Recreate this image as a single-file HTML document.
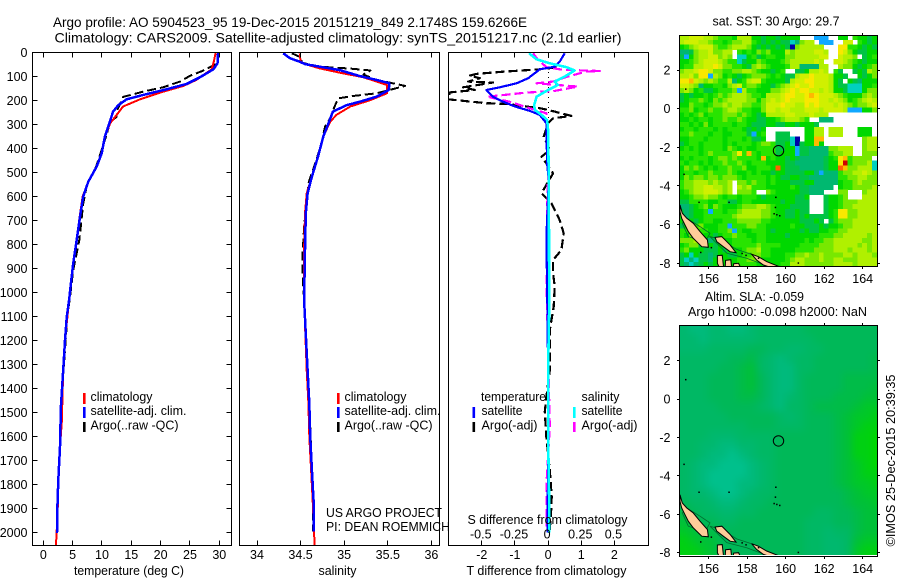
<!DOCTYPE html>
<html lang="en">
<head>
<meta charset="utf-8">
<title>Argo profile 5904523_95</title>
<style>
html,body{margin:0;padding:0;background:#fff;}
svg{display:block;}
text{font-family:"Liberation Sans",sans-serif;font-size:12.5px;fill:#000;}
.title{font-size:14px;}
.frame{fill:none;stroke:#000;stroke-width:1;shape-rendering:crispEdges;}
.mark{fill:none;shape-rendering:crispEdges;stroke-linejoin:round;}
</style>
</head>
<body>
<svg id="chart" xmlns="http://www.w3.org/2000/svg" width="900" height="580" viewBox="0 0 900 580">
<defs>
<clipPath id="clip-temp"><rect x="32.5" y="52.5" width="199" height="493"/></clipPath>
<clipPath id="clip-sal"><rect x="239.5" y="52.5" width="200" height="493"/></clipPath>
<clipPath id="clip-diff"><rect x="448.5" y="52.5" width="200" height="493"/></clipPath>
<clipPath id="clip-map1"><rect x="679.5" y="35.5" width="198" height="231"/></clipPath>
<clipPath id="clip-map2"><rect x="679.5" y="325.5" width="198" height="231"/></clipPath>
</defs>
<rect x="0" y="0" width="900" height="580" fill="#fff"/>

<text class="title" x="53" y="27" textLength="474" lengthAdjust="spacingAndGlyphs">Argo profile: AO 5904523_95 19-Dec-2015 20151219_849 2.1748S 159.6266E</text>
<text class="title" x="54.5" y="42.5" textLength="567" lengthAdjust="spacingAndGlyphs">Climatology: CARS2009. Satellite-adjusted climatology: synTS_20151217.nc (2.1d earlier)</text>

<g id="temp-marks" clip-path="url(#clip-temp)"></g>
<g id="sal-marks" clip-path="url(#clip-sal)"></g>
<g id="diff-marks" clip-path="url(#clip-diff)"></g>

<rect class="frame" x="32.5" y="52.5" width="199" height="493"/>
<rect class="frame" x="239.5" y="52.5" width="200" height="493"/>
<rect class="frame" x="448.5" y="52.5" width="200" height="493"/>
<g id="axes"></g>

<text x="74" y="575" textLength="110" lengthAdjust="spacingAndGlyphs">temperature (deg C)</text>
<text x="318.5" y="575" textLength="38" lengthAdjust="spacingAndGlyphs">salinity</text>
<text x="466.5" y="575" textLength="160" lengthAdjust="spacingAndGlyphs">T difference from climatology</text>
<text x="467.5" y="524" textLength="160" lengthAdjust="spacingAndGlyphs">S difference from climatology</text>

<g>
<rect x="83" y="393" width="2.6" height="11" fill="#f00"/>
<rect x="83" y="407" width="2.6" height="11" fill="#00f"/>
<rect x="83" y="422" width="2.6" height="10" fill="#000"/>
<text x="90.5" y="401" textLength="62" lengthAdjust="spacingAndGlyphs">climatology</text>
<text x="90.5" y="415" textLength="96" lengthAdjust="spacingAndGlyphs">satellite-adj. clim.</text>
<text x="90.5" y="429.5" textLength="88" lengthAdjust="spacingAndGlyphs">Argo(..raw -QC)</text>
</g>
<g>
<rect x="337" y="393" width="2.6" height="11" fill="#f00"/>
<rect x="337" y="407" width="2.6" height="11" fill="#00f"/>
<rect x="337" y="422" width="2.6" height="10" fill="#000"/>
<text x="344.5" y="401" textLength="62" lengthAdjust="spacingAndGlyphs">climatology</text>
<text x="344.5" y="415" textLength="96" lengthAdjust="spacingAndGlyphs">satellite-adj. clim.</text>
<text x="344.5" y="429.5" textLength="88" lengthAdjust="spacingAndGlyphs">Argo(..raw -QC)</text>
</g>
<g>
<text x="481" y="401" textLength="65" lengthAdjust="spacingAndGlyphs">temperature</text>
<rect x="472.5" y="407" width="2.6" height="11" fill="#00f"/>
<rect x="472.5" y="422" width="2.6" height="10" fill="#000"/>
<text x="481.5" y="415" textLength="41" lengthAdjust="spacingAndGlyphs">satellite</text>
<text x="481.5" y="429.5" textLength="56" lengthAdjust="spacingAndGlyphs">Argo(-adj)</text>
<text x="581.5" y="401" textLength="38" lengthAdjust="spacingAndGlyphs">salinity</text>
<rect x="573" y="407" width="2.6" height="11" fill="#0ff"/>
<rect x="573" y="422" width="2.6" height="10" fill="#f0f"/>
<text x="581.5" y="415" textLength="41" lengthAdjust="spacingAndGlyphs">satellite</text>
<text x="581.5" y="429.5" textLength="56" lengthAdjust="spacingAndGlyphs">Argo(-adj)</text>
</g>
<text x="326" y="517" textLength="116" lengthAdjust="spacingAndGlyphs">US ARGO PROJECT</text>
<text x="326" y="531" textLength="124" lengthAdjust="spacingAndGlyphs">PI: DEAN ROEMMICH</text>

<text x="712.5" y="25.5" textLength="127" lengthAdjust="spacingAndGlyphs">sat. SST: 30 Argo: 29.7</text>
<g id="map1-cells" clip-path="url(#clip-map1)"></g>
<g id="map1-land" clip-path="url(#clip-map1)"></g>
<rect class="frame" x="679.5" y="35.5" width="198" height="231"/>

<text x="705" y="301" textLength="99" lengthAdjust="spacingAndGlyphs">Altim. SLA: -0.059</text>
<text x="688" y="316" textLength="179" lengthAdjust="spacingAndGlyphs">Argo h1000: -0.098 h2000: NaN</text>
<g clip-path="url(#clip-map2)"><g id="map2-cells" style="filter:blur(4px)"></g></g>
<g id="map2-land" clip-path="url(#clip-map2)"></g>
<rect x="680" y="555" width="197" height="1.5" fill="#fff"/>
<rect class="frame" x="679.5" y="325.5" width="198" height="231"/>
<g id="map-axes"></g>
<text transform="translate(895 546.5) rotate(-90)" x="0" y="0" textLength="172" lengthAdjust="spacingAndGlyphs">©IMOS 25-Dec-2015 20:39:35</text>
</svg>

<script>
const depthTicks = [0,100,200,300,400,500,600,700,800,900,1000,1100,1200,1300,1400,1500,1600,1700,1800,1900,2000];
const tempTicks = [0,5,10,15,20,25,30];
const salTicks = [34,34.5,35,35.5,36];
const diffTTicks = [-2,-1,0,1,2];
const diffSTicks = [-0.5,-0.25,0,0.25,0.5];
const lonTicks = [156,158,160,162,164];
const latTicks = [2,0,-2,-4,-6,-8];

const tempSatDepth = [0,46,71,104,132,154,178,196,220,247,296,351,421,476,539,601,685,782,880,963,1033,1100,1200,1324,1477,1643,1782,1907,2003];
const tempSatValue = [29.8,29.7,29.0,26.7,24.4,21.0,17.0,14.2,12.8,11.9,11.25,10.5,9.95,9.1,7.67,6.8,6.25,5.7,5.1,4.7,4.4,4.0,3.7,3.4,3.0,2.85,2.56,2.39,2.33];
const tempClimDepth = [0,46,71,115,140,168,196,226,261,296,351,421,476,539,601,685,782,880,963,1033,1200,1324,1540,1643,1782,1907,2052];
const tempClimValue = [29.4,29.0,28.7,26.1,23.9,19.9,16.5,13.6,12.5,11.4,10.5,9.95,9.1,7.7,6.7,6.2,5.65,5.1,4.7,4.4,3.7,3.4,3.15,2.85,2.55,2.45,2.17];
const tempArgoDepth = [0,46,76,98,122,146,164,186,214,241,269,289,351,428,490,546,630,727,782,838,907,990,1100,1324,1477,1643,1782,1907,2000];
const tempArgoValue = [29.9,29.7,27.3,25,23.3,20.4,17,13.6,13.1,12.6,12.5,11.4,10.7,9.66,8.8,7.5,6.8,6.4,6.14,5.7,5.1,4.7,4.1,3.45,3.0,2.88,2.58,2.42,2.36];

const salSatDepth = [4,25,39,49,60,74,99,115,129,157,185,206,220,247,296,351,435,518,587,671,824,1033,1324,1462,1600,1740,1878,1996];
const salSatValue = [34.30,34.38,34.49,34.55,34.72,34.95,35.18,35.37,35.52,35.51,35.37,35.18,35.03,34.87,34.82,34.76,34.70,34.63,34.58,34.56,34.55,34.54,34.58,34.60,34.61,34.63,34.65,34.65];
const salClimDepth = [4,39,49,67,85,104,136,171,199,226,261,289,351,435,518,587,671,824,1033,1324,1462,1600,1740,1878,2052];
const salClimValue = [34.49,34.50,34.55,34.72,34.95,35.22,35.49,35.49,35.30,35.07,34.91,34.84,34.76,34.70,34.63,34.57,34.55,34.54,34.54,34.57,34.59,34.60,34.62,34.64,34.66];
const salArgoDepth = [4,22,43,60,68,76,93,115,140,171,182,192,226,275,310,379,449,546,727,865,907,1033,1324,1462,1600,1740,1878,1996];
const salArgoValue = [34.40,34.51,34.51,34.72,35.07,35.30,35.22,35.37,35.70,35.37,35.10,34.93,34.89,34.84,34.78,34.74,34.68,34.59,34.54,34.52,34.52,34.54,34.575,34.60,34.615,34.63,34.645,34.645];

const diffTSatDepth = [4,39,60,71,108,129,146,157,185,206,226,244,261,296,463,532,671,768,1060,1324,1600,1878,2000];
const diffTSatValue = [0.50,0.35,0.2,-0.25,-0.60,-0.95,-1.46,-1.86,-1.66,-1.36,-1.0,-0.55,-0.25,-0.05,-0.03,0.02,-0.02,-0.05,-0.02,0,0,-0.01,-0.02];
const diffSSatDepth = [4,29,46,62,76,101,122,136,157,185,219,240,261,282,324,532,1060,1324,1600,1878,2000];
const diffSSatValue = [-0.143,-0.087,0.013,0.139,0.20,0.126,0.05,0.075,0,-0.087,-0.105,-0.10,-0.05,-0.007,0,0.005,0.008,0,0,0.008,0.01];
const diffTArgoDepth = [63,71,81,90,97,108,122,126,146,157,167,196,212,215,234,247,265,275,296,351,407,435,463,504,587,629,699,754,824,865,921,976,1060,1150,1324,1435,1497,1607,1740,1852,1894,1990];
const diffTArgoValue = [0.25,-0.25,-1.36,-2.16,-2.36,-2.06,-2.41,-1.66,-2.56,-2.21,-2.96,-3.02,-1.86,-1.25,-0.2,0.2,0.7,0.15,0,-0.13,0.05,-0.2,-0.05,0.15,-0.2,0.1,0.35,0.47,0.4,0.15,0.15,0.2,0.17,0.06,0.05,-0.05,-0.1,-0.05,0.05,0.11,0.1,0.05];
const diffSArgoDepth = [4,32,62,73,78,80,101,122,129,143,161,168,185,206,233,254,275,324,380,490,685,1018,1560,1796,1976];
const diffSArgoValue = [-0.113,-0.075,-0.012,0.11,0.39,0.29,0.15,0.035,-0.087,0.224,0.05,-0.163,-0.46,-0.29,-0.14,-0.012,-0.012,0,-0.012,0,-0.008,-0.01,0.013,-0.012,-0.012];

/* SST map: one hex level per quarter-degree cell, '.' = no data; spaces only group columns */
const sstLevelColors = ['#0000a8','#10a8ff','#00d0c0','#00b870','#00c444','#00d800','#28e400','#78e800','#b0f000','#d0f000','#f8e800','#ffb800','#ff6000','#d00000'];
const sstRows = [
"8899988766 6588855455 45555...11 1..55.6554 5",
"8999887665 6778865454 54423788.1 11..99.654 5",
"5678999766 7888754545 4540788888 ...aa66545 4",
"3347889778 8.65657675 5587888899 8..a975445 5",
"4157889978 7.22564566 5577888889 9..9887.45 6",
"5567899987 6624557655 5678888898 ..99876545 5",
"5668899a97 7665478765 5568833338 8..8775456 7",
"7889aa9776 6778876554 56..445889 8.64..4548 7",
"8897aa1875 6545677765 6544899a99 98554..545 7",
"aab9878766 8356899655 554899aa99 9854.54355 5",
"9987355665 7896776554 6789a99a99 9854422255 6",
"7875644566 6718665557 789a9aa998 9855422257 7",
"4545565676 7888766588 89aa99aba9 9987655578 7",
"4566765767 8888775789 89a999aaa9 9898756789 8",
"5576656778 7887766799 9a9988a9a9 9989876778 9",
"6675667667 8876655799 8998889998 9999811155 7",
"5656756667 7767654588 8899888988 8......... .",
"5565665667 6676554455 6788876..3 33........ .",
"6656575666 6566544455 445545554. .......... .",
"5665666565 66654545.. ......5588 .888...555 .",
"6676665665 56664156.. 444...5588 .888...555 .",
"5566656665 66656445.. 44420.55bb ........78 8",
"4566566665 6566656776 44520455b5 ........78 8",
"5656566665 7656556666 4455144333 377888..78 8",
"6666567666 67a6b65666 4555144333 367788..77 7",
"5656665677 6766665b56 5545433333 456ab67777 .",
"6566565667 6676566655 5544333333 455ad67778 2",
"5767656566 7667556665 c544433333 455cb77888 2",
"5665667666 7655656554 5544445531 3336778898 7",
"5767767767 7765666656 5445544333 3336677887 7",
"6778887877 8.77676656 5554445533 3335667877 7",
"6778899887 8.87866655 5556544333 33.5667777 8",
"5678899987 8.7776..76 5555544333 ...77...78 8",
"5567787765 6656665455 5555445... 45567...88 8",
"4466665566 4456655555 5455444... 4556777888 8",
"3345675765 5567778876 5554444... 4556778888 8",
"4345561665 6678888776 5544544... 456aa77888 8",
"5345566666 6788888776 5544545444 456aa77888 8",
"5454566556 6677777665 5555544454 .467778888 8",
"4546755566 1666776655 5556554445 4556778888 8",
"6657665566 7165566654 5555545445 5667788888 8",
"6577655456 6766556655 5545555556 6677888887 8",
"7778743445 5666656655 5555556566 7788888877 8",
"5677435455 5666667666 6555566667 7788888787 8",
"6755544454 5556778665 5555666677 7788878887 8",
"4525443455 4456677665 5566778778 7777887888 7",
"4232443545 5566776555 5567887778 7788777888 8",
"4323454555 5566665555 5668887777 7788887888 8"
];

/* SLA map: coarse level grid */
const slaLevelColors = ['#00c08c','#00ba7c','#00b86e','#00b864','#00b858','#00bc48','#00c038','#00c828','#00d012','#00d800'];
const slaRows = [
"211221123333344444444",
"221222223333334444444",
"222333344332233444444",
"333334453212334444445",
"333344563211334444445",
"333444564211344445555",
"333444564211344445556",
"333444554212344455566",
"333344443213345555677",
"333334444432344456778",
"333333344433344456788",
"333222333344444456889",
"332211223344444456889",
"332110123344444456889",
"321100012344444456789",
"321000012344444456788",
"321000112344444456778",
"322100123344444445677",
"433211233444444445667",
"543322334444443344566",
"654433444444433344566",
"765544444444433233566",
"876644444444433223677",
"887644444444433223788"
];

/* Coastlines, lon / lat */
const landALon = [154.51,154.63,154.86,155.20,155.55,155.93,155.98,155.64,155.20,154.94,154.77,154.60,154.51];
const landALat = [-4.98,-5.41,-5.67,-5.93,-6.36,-6.79,-7.17,-7.14,-6.71,-6.36,-6.02,-5.67,-5.33];
const landBLon = [156.33,156.68,157.11,157.42,157.11,156.76,156.42];
const landBLat = [-6.66,-6.62,-7.05,-7.45,-7.40,-7.14,-6.88];
const landCLon = [158.23,158.58,159.01,159.74,159.36,158.84,158.49];
const landCLat = [-7.53,-7.66,-7.91,-8.20,-8.26,-8.09,-7.83];
const landDLon = [156.45,156.70,156.78,156.60,156.45];
const landDLat = [-7.60,-7.58,-8.25,-8.30,-8.00];
const landELon = [156.88,157.15,157.20,156.85];
const landELat = [-7.85,-7.82,-8.30,-8.30];
const landFLon = [157.30,157.55,157.70,157.25];
const landFLat = [-8.02,-8.00,-8.30,-8.30];
const contourALon = [154.63,154.94,155.81,156.07,155.55,154.86];
const contourALat = [-5.93,-6.62,-6.91,-6.45,-6.10,-5.67];
const contourBLon = [156.07,156.94,157.97,158.67,159.01,158.32,157.45,156.68];
const contourBLat = [-6.62,-7.48,-7.74,-8.00,-8.17,-7.57,-7.28,-6.79];
const islandDotLon = [154.77,154.68,155.46,157.02,159.45,159.43,159.36,159.50,159.65,160.62,155.55,156.10,157.70,157.90,158.55];
const islandDotLat = [1.05,-3.36,-4.81,-4.81,-4.55,-5.07,-5.40,-5.45,-5.50,-7.95,-7.40,-7.15,-7.45,-7.55,-7.70];

const argoLon = [159.6266];
const argoLat = [-2.1748];

const NS = 'http://www.w3.org/2000/svg';
function yDepth(d){ return 52.3 + d * 0.24; }
function xTemp(t){ return 43.3 + t * 5.867; }
function xSal(s){ return 257 + (s - 34) * 87.2; }
function xDiffT(t){ return 548.1 + t * 33.15; }
function xDiffS(s){ return 548.1 + s * 132.6; }
function xLon(lon){ return 708.7 + (lon - 156) * 19.25; }
function yLat1(lat){ return 70 + (2 - lat) * 19.33; }
function yLat2(lat){ return 360.7 + (2 - lat) * 19.2; }

function addSeries(parent, xFn, values, depths, color, width, dash, name){
  const p = document.createElementNS(NS, 'polyline');
  p.setAttribute('points', values.map(function(v, i){ return xFn(v).toFixed(1) + ',' + yDepth(depths[i]).toFixed(1); }).join(' '));
  p.setAttribute('class', 'mark');
  p.setAttribute('stroke', color);
  p.setAttribute('stroke-width', width);
  if (dash) p.setAttribute('stroke-dasharray', dash);
  
  
  parent.appendChild(p);
}
function addTick(parent, x1, y1, x2, y2){
  const l = document.createElementNS(NS, 'line');
  l.setAttribute('x1', x1);
  l.setAttribute('y1', y1);
  l.setAttribute('x2', x2);
  l.setAttribute('y2', y2);
  l.setAttribute('stroke', '#000');
  l.setAttribute('stroke-width', 1);
  l.setAttribute('shape-rendering', 'crispEdges');
  
  
  parent.appendChild(l);
}
function addLabel(parent, x, y, str, anchor){
  const t = document.createElementNS(NS, 'text');
  t.setAttribute('x', x);
  t.setAttribute('y', y);
  t.setAttribute('text-anchor', anchor);
  t.textContent = str;
  
  
  parent.appendChild(t);
}
function snap(v){ return Math.round(v - 0.5) + 0.5; }

const axes = document.getElementById('axes');
depthTicks.forEach(function(d){
  const y = snap(yDepth(d));
  addTick(axes, 32.5, y, 37.5, y);
  addTick(axes, 226.5, y, 231.5, y);
  addLabel(axes, 27.5, yDepth(d) + 4.5, String(d), 'end');
});
function xAxis(ticks, xFn){
  ticks.forEach(function(v){
    const x = snap(xFn(v));
    addTick(axes, x, 52.5, x, 57.5);
    addTick(axes, x, 540.5, x, 545.5);
    addLabel(axes, xFn(v), 559, String(v), 'middle');
  });
}
xAxis(tempTicks, xTemp);
xAxis(salTicks, xSal);
xAxis(diffTTicks, xDiffT);
diffSTicks.forEach(function(v){
  addLabel(axes, xDiffS(v) - 1, 538.5, String(v), 'middle');
});

const gTemp = document.getElementById('temp-marks');
addSeries(gTemp, xTemp, tempArgoValue, tempArgoDepth, '#000', 2, '9 4', 'temperature-argo-line');
addSeries(gTemp, xTemp, tempClimValue, tempClimDepth, '#f00', 2, null, 'temperature-climatology-line');
addSeries(gTemp, xTemp, tempSatValue, tempSatDepth, '#00f', 2.5, null, 'temperature-satellite-line');

const gSal = document.getElementById('sal-marks');
addSeries(gSal, xSal, salArgoValue, salArgoDepth, '#000', 2, '9 4', 'salinity-argo-line');
addSeries(gSal, xSal, salClimValue, salClimDepth, '#f00', 2, null, 'salinity-climatology-line');
addSeries(gSal, xSal, salSatValue, salSatDepth, '#00f', 2.5, null, 'salinity-satellite-line');

const gDiff = document.getElementById('diff-marks');
const zero = document.createElementNS(NS, 'line');
zero.setAttribute('x1', snap(xDiffT(0)));
zero.setAttribute('x2', snap(xDiffT(0)));
zero.setAttribute('y1', 52);
zero.setAttribute('y2', 545);
zero.setAttribute('stroke', '#000');
zero.setAttribute('stroke-dasharray', '1 4');
zero.setAttribute('shape-rendering', 'crispEdges');


gDiff.appendChild(zero);
addSeries(gDiff, xDiffT, diffTArgoValue, diffTArgoDepth, '#000', 2.2, '9 4', 't-difference-argo-line');
addSeries(gDiff, xDiffS, diffSArgoValue, diffSArgoDepth, '#f0f', 2.2, '9 4', 's-difference-argo-line');
addSeries(gDiff, xDiffT, diffTSatValue, diffTSatDepth, '#00f', 2.2, null, 't-difference-satellite-line');
addSeries(gDiff, xDiffS, diffSSatValue, diffSSatDepth, '#0ff', 2.6, null, 's-difference-satellite-line');

/* Heatmaps */
const sstCellLon = 0.25;
const sstCellLat = 0.25;
const sstOriginLon = 154.47;
const sstOriginLat = 3.81;
const gMap1 = document.getElementById('map1-cells');
sstRows.forEach(function(row, r){
  row.replace(/ /g, '').split('').forEach(function(ch, c){
    if (ch === '.') return;
    const level = parseInt(ch, 16);
    const lon = sstOriginLon + c * sstCellLon;
    const lat = sstOriginLat - r * sstCellLat;
    const cell = document.createElementNS(NS, 'rect');
    cell.setAttribute('x', xLon(lon).toFixed(2));
    cell.setAttribute('y', yLat1(lat).toFixed(2));
    cell.setAttribute('width', (sstCellLon * 19.25 + 0.3).toFixed(2));
    cell.setAttribute('height', (sstCellLat * 19.33 + 0.3).toFixed(2));
    cell.setAttribute('fill', sstLevelColors[level]);
    cell.setAttribute('shape-rendering', 'crispEdges');
    
    
    gMap1.appendChild(cell);
  });
});
const slaCellLon = 0.5;
const slaCellLat = 0.5;
const slaOriginLon = 154.47;
const slaOriginLat = 3.86;
const gMap2 = document.getElementById('map2-cells');
const slaBase = document.createElementNS(NS, 'rect');
slaBase.setAttribute('x', 670);
slaBase.setAttribute('y', 315);
slaBase.setAttribute('width', 220);
slaBase.setAttribute('height', 250);
slaBase.setAttribute('fill', slaLevelColors[4]);


gMap2.appendChild(slaBase);
slaRows.forEach(function(row, r){
  row.split('').forEach(function(ch, c){
    const level = parseInt(ch, 10);
    const lon = slaOriginLon + c * slaCellLon;
    const lat = slaOriginLat - r * slaCellLat;
    const cell = document.createElementNS(NS, 'rect');
    cell.setAttribute('x', (xLon(lon) - (c === 0 ? 10 : 0)).toFixed(2));
    cell.setAttribute('y', (yLat2(lat) - (r === 0 ? 10 : 0)).toFixed(2));
    cell.setAttribute('width', (slaCellLon * 19.25 + 0.5 + (c === 0 ? 10 : 0) + (c === 20 ? 10 : 0)).toFixed(2));
    cell.setAttribute('height', (slaCellLat * 19.2 + 0.5 + (r === 0 ? 10 : 0) + (r === 23 ? 10 : 0)).toFixed(2));
    cell.setAttribute('fill', slaLevelColors[level]);
    
    
    gMap2.appendChild(cell);
  });
});

function drawLand(parent, yFn){
  [[contourALon,contourALat],[contourBLon,contourBLat]].forEach(function(pair){
    const p = document.createElementNS(NS, 'polygon');
    p.setAttribute('points', pair[0].map(function(lon, i){ return xLon(lon).toFixed(1) + ',' + yFn(pair[1][i]).toFixed(1); }).join(' '));
    p.setAttribute('fill', 'none');
    p.setAttribute('stroke', '#006a30');
    p.setAttribute('stroke-width', 0.8);
    
    
    parent.appendChild(p);
  });
  [[landALon,landALat],[landBLon,landBLat],[landCLon,landCLat],[landDLon,landDLat],[landELon,landELat],[landFLon,landFLat]].forEach(function(pair){
    const p = document.createElementNS(NS, 'polygon');
    p.setAttribute('points', pair[0].map(function(lon, i){ return xLon(lon).toFixed(1) + ',' + yFn(pair[1][i]).toFixed(1); }).join(' '));
    p.setAttribute('fill', '#ffcc99');
    p.setAttribute('stroke', '#000');
    p.setAttribute('stroke-width', 1);
    
    
    parent.appendChild(p);
  });
  islandDotLon.forEach(function(lon, i){
    const d = document.createElementNS(NS, 'rect');
    d.setAttribute('x', xLon(lon).toFixed(1));
    d.setAttribute('y', yFn(islandDotLat[i]).toFixed(1));
    d.setAttribute('width', 1.5);
    d.setAttribute('height', 1.5);
    d.setAttribute('fill', '#000');
    
    
    parent.appendChild(d);
  });
  const c = document.createElementNS(NS, 'circle');
  c.setAttribute('cx', xLon(argoLon[0]).toFixed(1));
  c.setAttribute('cy', yFn(argoLat[0]).toFixed(1));
  c.setAttribute('r', 5.2);
  c.setAttribute('fill', 'none');
  c.setAttribute('stroke', '#000');
  c.setAttribute('stroke-width', 1);
  
  
  parent.appendChild(c);
}
drawLand(document.getElementById('map1-land'), yLat1);
drawLand(document.getElementById('map2-land'), yLat2);

const mapAxes = document.getElementById('map-axes');
function drawMapAxes(yFn, top, bottom, labelY){
  lonTicks.forEach(function(lon){
    const x = snap(xLon(lon));
    addTick(mapAxes, x, top - 2.5, x, top);
    addTick(mapAxes, x, bottom, x, bottom + 2.5);
    addLabel(mapAxes, xLon(lon), labelY, String(lon), 'middle');
  });
  latTicks.forEach(function(lat){
    const y = snap(yFn(lat));
    addTick(mapAxes, 677, y, 679.5, y);
    addTick(mapAxes, 877.5, y, 880, y);
    addLabel(mapAxes, 670.5, yFn(lat) + 4.5, String(lat), 'end');
  });
}
drawMapAxes(yLat1, 35.5, 266.5, 283);
drawMapAxes(yLat2, 325.5, 556.5, 573);
</script>
</body>
</html>
